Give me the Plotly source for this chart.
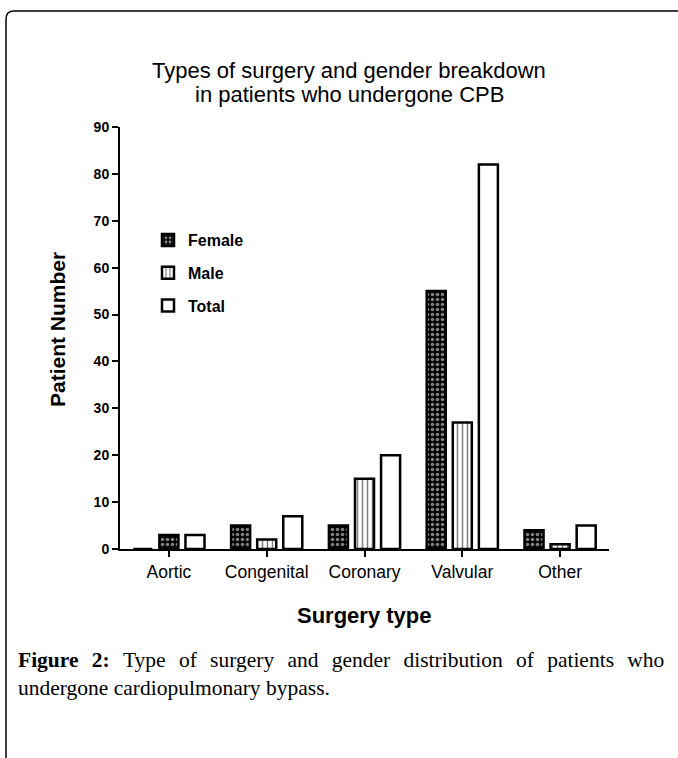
import plotly.graph_objects as go

categories = ["Aortic", "Congenital", "Coronary", "Valvular", "Other"]
female = [0, 5, 5, 55, 4]
male = [3, 2, 15, 27, 1]
total = [3, 7, 20, 82, 5]
y_ticks = [0, 10, 20, 30, 40, 50, 60, 70, 80, 90]

W, H = 678, 758
L, R, T, B = 120, 69, 127, 209
PW, PH = W - L - R, H - T - B


def px(x):
    return (x - L) / PW


def py(y):
    return (H - B - y) / PH


checker = dict(shape=".", fgcolor="white", bgcolor="black", size=5, solidity=0.4)
vlines = dict(shape="|", fgcolor="black", bgcolor="white", size=5, solidity=0.3)
outline = dict(color="black", width=2.5)

fig = go.Figure()
fig.add_trace(go.Bar(
    name="Female", x=categories, y=female, legendgroup="f", offsetgroup="f",
    marker=dict(color="black", line=outline, pattern=checker),
))
fig.add_trace(go.Bar(
    name="Male", x=categories[1:], y=male[1:], legendgroup="m", offsetgroup="m",
    marker=dict(color="white", line=outline, pattern=vlines),
))
# the Aortic bar sits in the middle slot but carries the checkered fill
fig.add_trace(go.Bar(
    name="Male", x=categories[:1], y=male[:1], legendgroup="m", offsetgroup="m", showlegend=False,
    marker=dict(color="black", line=outline, pattern=checker),
))
fig.add_trace(go.Bar(
    name="Total", x=categories, y=total, legendgroup="t", offsetgroup="t",
    marker=dict(color="white", line=outline),
))

fig.update_layout(
    width=W, height=H,
    margin=dict(l=L, r=R, t=T, b=B),
    paper_bgcolor="white", plot_bgcolor="white",
    barmode="group", bargap=0.2, bargroupgap=0.27,
    font=dict(family="Liberation Sans, Arial, sans-serif", color="black"),
    showlegend=True,
    legend=dict(x=px(148), y=py(223), xanchor="left", yanchor="top",
                bgcolor="rgba(0,0,0,0)", tracegroupgap=9,
                font=dict(size=16, color="black", family="Liberation Sans, Arial, sans-serif", weight="bold")),
    xaxis=dict(range=[-0.5, 4.5], showline=True, linecolor="black", linewidth=2,
               ticks="outside", ticklen=6, tickwidth=2, tickcolor="black",
               tickfont=dict(size=17.5, color="black"), showgrid=False, zeroline=False),
    yaxis=dict(range=[0, 90], tickvals=y_ticks, showline=True, linecolor="black", linewidth=2,
               ticks="outside", ticklen=6, tickwidth=2, tickcolor="black",
               tickfont=dict(size=14, color="black", weight="bold"), showgrid=False, zeroline=False),
)

# title lines
for txt, yy in [("Types of surgery and gender breakdown", 70), ("in patients who undergone CPB", 94)]:
    fig.add_annotation(text=txt, xref="paper", yref="paper", x=px(349), y=py(yy),
                       xanchor="center", yanchor="middle", showarrow=False,
                       font=dict(size=22, color="black", family="Liberation Sans, Arial, sans-serif"))

# axis titles
fig.add_annotation(text="<b>Surgery type</b>", xref="paper", yref="paper", x=px(364), y=py(615),
                   xanchor="center", yanchor="middle", showarrow=False,
                   font=dict(size=22, color="black"))
fig.add_annotation(text="<b>Patient Number</b>", xref="paper", yref="paper", x=px(57), y=py(330),
                   xanchor="center", yanchor="middle", showarrow=False, textangle=-90,
                   font=dict(size=21, color="black"))

# frame
fig.add_shape(type="path", xref="paper", yref="paper",
              path=f"M {px(6)},{py(760)} L {px(6)},{py(19)} Q {px(6)},{py(11)} {px(14)},{py(11)} L {px(680)},{py(11)}",
              line=dict(color="black", width=1.5))

sp = " \u2009\u200a\u200a"
line1 = "<b>Figure" + sp + "2:</b>" + sp + sp.join("Type of surgery and gender distribution of patients who".split(" "))
fig.add_annotation(
    text=line1 + "<br>undergone cardiopulmonary bypass.",
    xref="paper", yref="paper", x=px(16), y=py(646), xanchor="left", yanchor="top",
    align="left", showarrow=False,
    font=dict(family="Liberation Serif, serif", size=21.5, color="black"))

fig.write_html("out.html", config={"displayModeBar": False},
               post_script="document.body.style.margin='0';")
